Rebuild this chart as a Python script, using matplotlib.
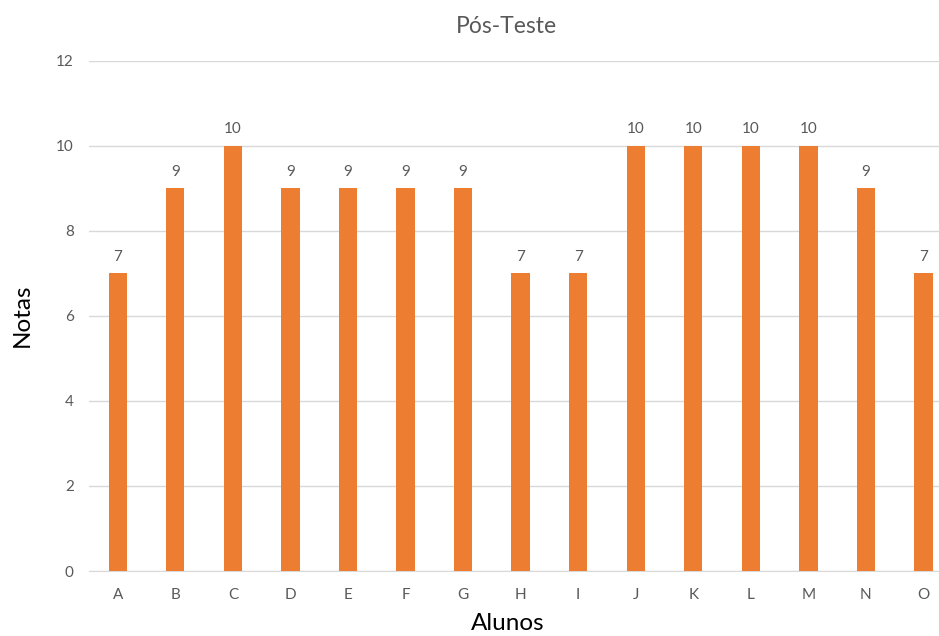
import matplotlib.pyplot as plt
import numpy as np

plt.rcParams['font.family'] = ['Lato', 'DejaVu Sans']

alunos = ['A', 'B', 'C', 'D', 'E', 'F', 'G', 'H', 'I', 'J', 'K', 'L', 'M', 'N', 'O']
notas = [7, 9, 10, 9, 9, 9, 9, 7, 7, 10, 10, 10, 10, 9, 7]
yticks = [0, 2, 4, 6, 8, 10, 12]

fig = plt.figure(figsize=(9.39, 6.36), dpi=100)
ax = fig.add_axes([0.0948, 0.1022, 0.9052, 0.8024])

x = np.arange(len(alunos))
ax.bar(x, notas, width=0.318, color='#ED7D31', zorder=3)
for xi, v in zip(x, notas):
    ax.text(xi, v + 0.22, str(v), ha='center', va='bottom', fontsize=11, color='#595959')

ax.set_xlim(-0.5, 14.27)
ax.set_ylim(0, 12)
ax.set_xticks(x)
ax.set_xticklabels(alunos)
ax.set_yticks(yticks)
ax.tick_params(axis='both', length=0, labelsize=11, colors='#595959')
ax.tick_params(axis='x', pad=12)
ax.tick_params(axis='y', pad=11)
ax.grid(axis='y', color='#D9D9D9', linewidth=1, zorder=0)
for s in ['top', 'right', 'left']:
    ax.spines[s].set_visible(False)
ax.spines['bottom'].set_color('#D9D9D9')

# axis titles placed in figure coords
fig.text(22 / 939, 1 - 315 / 636, 'Notas', rotation=90, ha='center', va='center',
         fontsize=17.5, color='black')
fig.text(508 / 939, 1 - 624 / 636, 'Alunos', ha='center', va='center',
         fontsize=17.5, color='black')
fig.text(0.539, 0.958, 'Pós-Teste', ha='center', va='center', fontsize=16.5, color='#595959')

fig.savefig('out.png', dpi=100)
